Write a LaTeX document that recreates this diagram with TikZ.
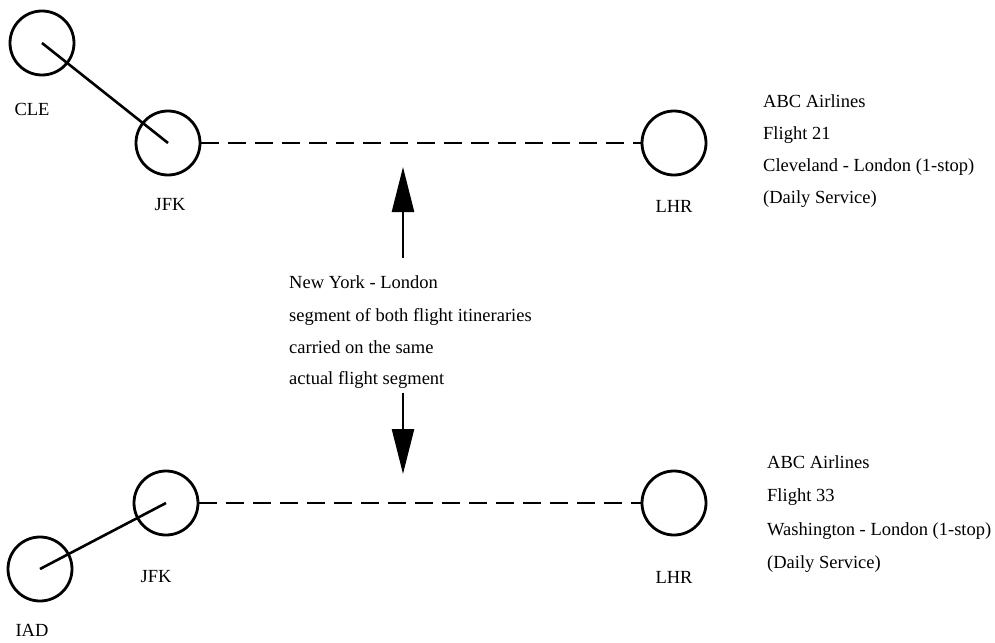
\documentclass[tikz,border=0pt]{standalone}
\usepackage{fontspec}
\setmainfont{Liberation Serif}
\usetikzlibrary{arrows.meta}
\begin{document}
\begin{tikzpicture}[x=1pt,y=-1pt,
  airport/.style={circle,draw,line width=2.8pt,minimum size=64pt,inner sep=0pt},
  code/.style={font=\fontsize{18.5}{20}\selectfont,anchor=base,inner sep=0pt},
  txt/.style={font=\fontsize{18.5}{20}\selectfont,anchor=base west,inner sep=0pt},
  route/.style={line width=2.6pt},
  shared/.style={line width=2.6pt,dash pattern=on 18pt off 9pt},
  pointer/.style={line width=2.6pt,-{Triangle[length=45pt,width=22pt]}}]
\useasboundingbox (0,0) rectangle (995,642);

% Flight 21: Cleveland - New York - London
\node[airport] (cle) at (42,43) {};
\node[airport] (jfk1) at (168,143) {};
\node[airport] (lhr1) at (674,143) {};
\node[code] (cleL) at (32,115) {CLE};
\node[code] (jfk1L) at (170,210) {JFK};
\node[code] (lhr1L) at (674,212) {LHR};
\draw[route] (cle.center) -- (jfk1.center);
\draw[shared] (jfk1.east) -- (lhr1.west);

\node[txt] (f21a) at (763,107) {ABC Airlines};
\node[txt] (f21b) at (763,139) {Flight 21};
\node[txt] (f21c) at (763,171) {Cleveland - London (1-stop)};
\node[txt] (f21d) at (763,203) {(Daily Service)};

% Flight 33: Washington - New York - London
\node[airport] (jfk2) at (166,503) {};
\node[airport] (lhr2) at (674,503) {};
\node[airport] (iad) at (40,569) {};
\node[code] (jfk2L) at (156,582) {JFK};
\node[code] (lhr2L) at (674,583) {LHR};
\node[code] (iadL) at (32,636) {IAD};
\draw[route] (iad.center) -- (jfk2.center);
\draw[shared] (jfk2.east) -- (lhr2.west);

\node[txt] (f33a) at (767,468) {ABC Airlines};
\node[txt] (f33b) at (767,501) {Flight 33};
\node[txt] (f33c) at (767,535) {Washington - London (1-stop)};
\node[txt] (f33d) at (767,568) {(Daily Service)};

% shared segment note
\node[txt] (n1) at (289,288) {New York - London};
\node[txt] (n2) at (289,321) {segment of both flight itineraries};
\node[txt] (n3) at (289,353) {carried on the same};
\node[txt] (n4) at (289,384) {actual flight segment};

\coordinate (upS) at (403,258);
\coordinate (upT) at (403,167);
\coordinate (dnS) at (403,393);
\coordinate (dnT) at (403,474);
\draw[pointer] (upS) -- (upT);
\draw[pointer] (dnS) -- (dnT);
\end{tikzpicture}
\end{document}
